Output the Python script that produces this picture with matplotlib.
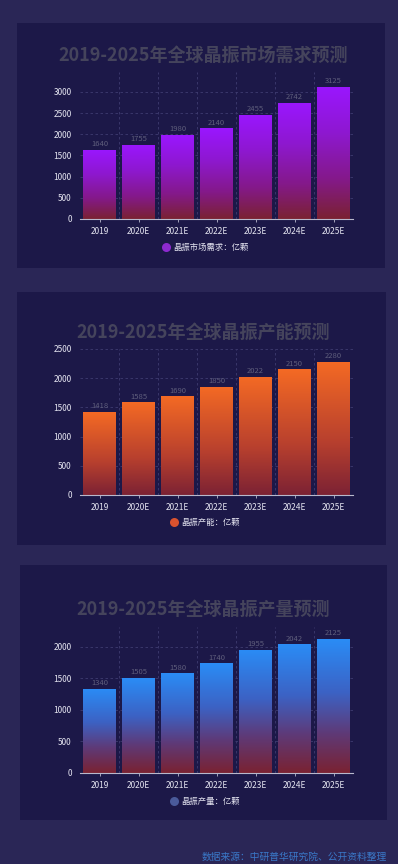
import matplotlib
matplotlib.use("Agg")
import matplotlib.pyplot as plt
import numpy as np
from matplotlib.colors import LinearSegmentedColormap
from matplotlib.lines import Line2D
from matplotlib.patches import Rectangle

plt.rcParams['font.family'] = ['Noto Sans CJK SC', 'DejaVu Sans']

years = ['2019', '2020E', '2021E', '2022E', '2023E', '2024E', '2025E']
demand = [1640, 1755, 1980, 2140, 2455, 2742, 3125]
capacity = [1418, 1585, 1690, 1850, 2022, 2150, 2280]
output = [1340, 1505, 1580, 1740, 1955, 2042, 2125]

W, H = 398, 864
fig = plt.figure(figsize=(W / 100, H / 100), dpi=100)
fig.patch.set_facecolor('#2a2656')

# panels: (x0, top, x1, bottom) in pixels
panels = [(17, 23, 385, 268), (17, 292, 386, 545), (20, 565, 387, 820)]
for x0, t, x1, b in panels:
    fig.patches.append(Rectangle((x0 / W, 1 - b / H), (x1 - x0) / W, (b - t) / H,
                                 transform=fig.transFigure, facecolor='#1c1848',
                                 edgecolor='none', zorder=-1))

charts = [
    dict(title='2019-2025年全球晶振市场需求预测', data=demand, legend='晶振市场需求：亿颗',
         colors=[(0, '#7a2232'), (0.3, '#84198a'), (0.65, '#8e18d0'), (1, '#9a16ff')],
         marker='#8e2ad0',
         ytop=72, y0=219, ymax=3470, ticks=[0, 500, 1000, 1500, 2000, 2500, 3000],
         title_y=55, leg_y=247),
    dict(title='2019-2025年全球晶振产能预测', data=capacity, legend='晶振产能：亿颗',
         colors=[(0, '#7c2234'), (0.4, '#b8402e'), (1, '#f46a24')], marker='#d9522e',
         ytop=349, y0=495, ymax=2500, ticks=[0, 500, 1000, 1500, 2000, 2500],
         title_y=332, leg_y=522),
    dict(title='2019-2025年全球晶振产量预测', data=output, legend='晶振产量：亿颗',
         colors=[(0, '#7a2232'), (0.3, '#5e3a78'), (0.6, '#3c62c4'), (1, '#2a8cf6')],
         marker='#4a5a9a',
         ytop=627, y0=773, ymax=2317, ticks=[0, 500, 1000, 1500, 2000],
         title_y=609, leg_y=801),
]

ax_l, ax_r = 80, 353
for c in charts:
    ax = fig.add_axes([ax_l / W, 1 - c['y0'] / H, (ax_r - ax_l) / W, (c['y0'] - c['ytop']) / H])
    ax.set_facecolor('none')
    x = np.arange(len(years))
    bars = ax.bar(x, c['data'], width=0.84, color='none', zorder=2)
    cmap = LinearSegmentedColormap.from_list('g', c['colors'])
    grad = np.linspace(0, 1, 256).reshape(-1, 1)
    for rect in bars:
        bx = rect.get_x()
        bw, bh = rect.get_width(), rect.get_height()
        im = ax.imshow(grad, cmap=cmap, origin='lower', aspect='auto',
                       extent=(bx, bx + bw, 0, bh), zorder=2)
        im.set_clip_path(rect)
        ax.text(bx + bw / 2, bh + c['ymax'] * 0.012, str(bh), ha='center', va='bottom',
                fontsize=5.5, color='#5f5e7c', zorder=3)
    ax.set_xlim(-0.5, len(years) - 0.5)
    ax.set_ylim(0, c['ymax'])
    ax.set_yticks(c['ticks'])
    ax.set_xticks(x)
    ax.set_xticklabels(years)
    ax.tick_params(axis='y', length=0, pad=6, labelsize=6, labelcolor='#e4e4f0')
    ax.tick_params(axis='x', length=2.5, width=0.6, color='#b8b8cc', pad=3,
                   labelsize=6, labelcolor='#e4e4f0')
    for t in c['ticks'][1:]:
        ax.axhline(t, color='#3e3b70', lw=0.6, ls=(0, (3, 3)), zorder=1)
    for b in np.arange(0.5, len(years), 1.0):
        ax.axvline(b, color='#3e3b70', lw=0.6, ls=(0, (3, 3)), zorder=1)
    for s in ['top', 'right', 'left']:
        ax.spines[s].set_visible(False)
    ax.spines['bottom'].set_color('#b8b8cc')
    ax.spines['bottom'].set_linewidth(0.8)
    fig.text(203 / W, 1 - c['title_y'] / H, c['title'], ha='center', va='center',
             fontsize=13, fontweight='bold', color='#45445c')
    handle = Line2D([], [], marker='o', ls='none', markersize=6.5,
                    markerfacecolor=c['marker'], markeredgecolor='none')
    fig.legend([handle], [c['legend']], loc='center', bbox_to_anchor=(205 / W, 1 - c['leg_y'] / H),
               frameon=False, fontsize=6, labelcolor='#e4e4f0', handletextpad=0.3,
               handlelength=1.0)

fig.text(387 / W, 1 - 857 / H, '数据来源：中研普华研究院、公开资料整理', ha='right', va='center',
         fontsize=7, color='#3a78c8')

fig.savefig('out.png', dpi=100, facecolor=fig.get_facecolor())
